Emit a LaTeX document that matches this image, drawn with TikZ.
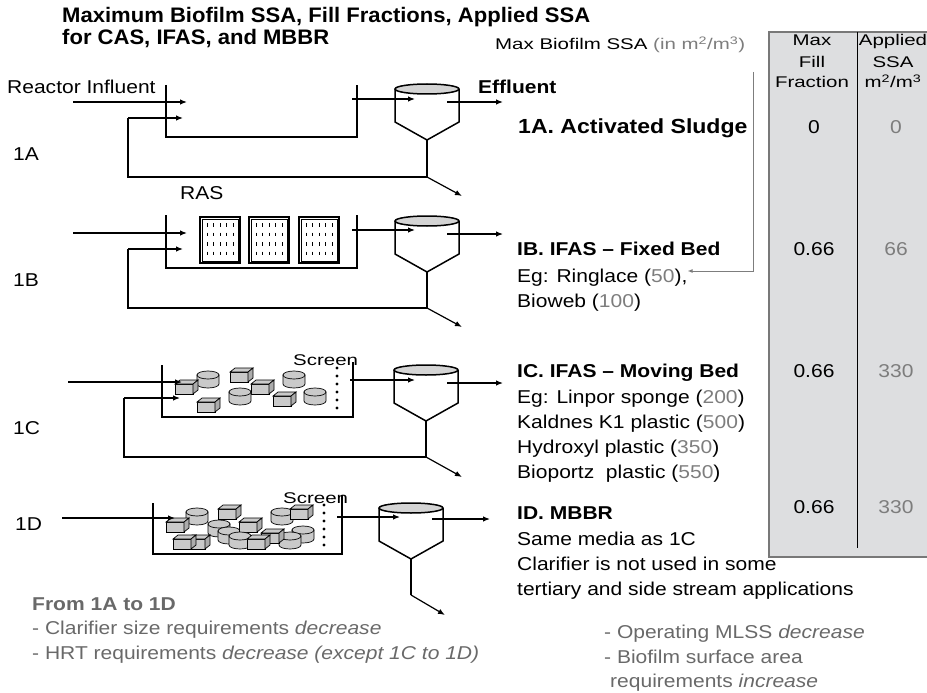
\documentclass[tikz,border=0pt]{standalone}
\usepackage{fontspec}
\setmainfont[FakeStretch=1.13]{Liberation Sans}
\newfontfamily\titlefont[FakeStretch=1.05]{Liberation Sans}
\newfontfamily\widefont[FakeStretch=1.32]{Liberation Sans}
\usetikzlibrary{arrows.meta}

\definecolor{valgray}{RGB}{125,125,125}
\definecolor{notegray}{RGB}{105,105,105}
\definecolor{tablefill}{RGB}{221,222,224}
\definecolor{tableline}{RGB}{120,120,120}
\definecolor{mediafill}{RGB}{202,202,202}
\definecolor{lidfill}{RGB}{212,212,212}

\newcommand{\mediacyl}[2]{%
  \filldraw[media] (#1-11,#2) -- (#1-11,#2+9) arc[start angle=180,end angle=0,x radius=11,y radius=4] -- (#1+11,#2) -- cycle;
  \filldraw[media] (#1,#2) ellipse[x radius=11,y radius=4];
}
\newcommand{\mediabox}[2]{%
  \filldraw[media] (#1,#2) rectangle (#1+18,#2-10);
  \filldraw[media] (#1,#2-10) -- (#1+5,#2-14) -- (#1+23,#2-14) -- (#1+18,#2-10) -- cycle;
  \filldraw[media,fill=mediafill!85!black] (#1+18,#2) -- (#1+23,#2-4) -- (#1+23,#2-14) -- (#1+18,#2-10) -- cycle;
}
\newcommand{\clarifier}[3]{%
  \draw[tank] (#2-32,#3) -- (#2-32,#3+33) -- (#2,#3+51) -- (#2+32,#3+33) -- (#2+32,#3);
  \filldraw[tank,fill=lidfill] (#2,#3) ellipse[x radius=32,y radius=5];
  \coordinate (#1) at (#2,#3+51);
}
\newcommand{\fixedpanel}[2]{%
  \draw[line width=1.2pt] (#1,#2) rectangle (#1+40,#2+46);
  \draw[line width=0.6pt] (#1+2,#2+2) rectangle (#1+38,#2+44);
  \foreach \pr in {0,...,3}{\foreach \pc in {0,...,4}{%
    \draw[line width=1pt] (#1+7+6.5*\pc,#2+6+9.5*\pr) -- ++(0,3.5);}}
}

\begin{document}
\begin{tikzpicture}[x=1pt,y=-1pt,
  tank/.style={line width=1.5pt},
  pipe/.style={line width=1.6pt},
  flow/.style={line width=1.2pt,-{Latex[length=7pt,width=5.5pt]}},
  pointer/.style={draw=valgray,line width=1pt,-{Latex[length=5pt,width=4pt]}},
  media/.style={draw=black,line width=0.7pt,fill=mediafill},
  txt/.style={anchor=base west,inner sep=0pt,font=\fontsize{18.6}{25}\selectfont},
  bold/.style={txt,font=\fontsize{18.6}{25}\selectfont\bfseries},
  note/.style={txt,text=notegray},
  titletxt/.style={anchor=base west,inner sep=0pt,font=\titlefont\fontsize{21}{23}\selectfont\bfseries},
  widetxt/.style={anchor=base west,inner sep=0pt,font=\widefont\fontsize{15.5}{21}\selectfont},
  head/.style={anchor=base,inner sep=0pt,font=\widefont\fontsize{15.5}{21}\selectfont},
  cell/.style={anchor=base,inner sep=0pt,font=\fontsize{18.6}{25}\selectfont}]
\useasboundingbox (0,0) rectangle (927,693);

\fill[tablefill] (769,32) rectangle (927,557);
\draw[tableline,line width=1.2pt] (927,32) -- (769,32) -- (769,557) -- (927,557);
\draw[line width=0.9pt] (857,32) -- (857,548);
\node[head] (hmax) at (812,46) {Max};
\node[head] (hfill) at (812,67) {Fill};
\node[head] (hfrac) at (812,88) {Fraction};
\node[head] (happ) at (893,46) {Applied};
\node[head] (hssa) at (893,67) {SSA};
\node[head] (hunit) at (893,88) {m\textsuperscript{2}/m\textsuperscript{3}};
\node[cell] (fillA) at (814,133) {0};
\node[cell,text=valgray] (ssaA) at (896,133) {0};
\node[cell] (fillB) at (814,255) {0.66};
\node[cell,text=valgray] (ssaB) at (896,255) {66};
\node[cell] (fillC) at (814,377) {0.66};
\node[cell,text=valgray] (ssaC) at (896,377) {330};
\node[cell] (fillD) at (814,513) {0.66};
\node[cell,text=valgray] (ssaD) at (896,513) {330};

\node[titletxt] (title1) at (62,23) {Maximum Biofilm SSA, Fill Fractions, Applied SSA};
\node[titletxt] (title2) at (62,45) {for CAS, IFAS, and MBBR};
\node[widetxt] (ssalabel) at (495,50) {Max Biofilm SSA \textcolor{valgray}{(in m\textsuperscript{2}/m\textsuperscript{3})}};

\node[txt] (influent) at (7,94) {Reactor Influent};
\node[bold] (effluent) at (478,94) {Effluent};
\node[txt] (labA) at (13,160) {1A};
\node[txt] (labB) at (13,286) {1B};
\node[txt] (labC) at (13,434) {1C};
\node[txt] (labD) at (15,530) {1D};
\node[txt] (ras) at (180,199) {RAS};

\node[bold,font=\fontsize{20.4}{25}\selectfont\bfseries] (casA) at (518,133) {1A. Activated Sludge};
\node[bold] (ifasB) at (517,255) {IB. IFAS -- Fixed Bed};
\node[txt] (ringlace) at (517,282) {Eg: Ringlace (\textcolor{valgray}{50}),};
\node[txt] (bioweb) at (517,307) {Bioweb (\textcolor{valgray}{100})};
\node[bold] (ifasC) at (517,377) {IC. IFAS -- Moving Bed};
\node[txt] (linpor) at (517,403) {Eg: Linpor sponge (\textcolor{valgray}{200})};
\node[txt] (kaldnes) at (517,428) {Kaldnes K1 plastic (\textcolor{valgray}{500})};
\node[txt] (hydroxyl) at (517,453) {Hydroxyl plastic (\textcolor{valgray}{350})};
\node[txt] (bioportz) at (517,478) {Bioportz\ \ plastic (\textcolor{valgray}{550})};
\node[bold] (mbbrD) at (517,519) {ID. MBBR};
\node[txt] (samemedia) at (517,545) {Same media as 1C};
\node[txt] (noclar1) at (517,570) {Clarifier is not used in some};
\node[txt] (noclar2) at (517,595) {tertiary and side stream applications};

\node[note,font=\fontsize{18.6}{25}\selectfont\bfseries] (fromto) at (32,610) {From 1A to 1D};
\node[note] (note1) at (32,634) {- Clarifier size requirements \textit{decrease}};
\node[note] (note2) at (32,659) {- HRT requirements \textit{decrease (except 1C to 1D)}};
\node[note] (note3) at (604,638) {- Operating MLSS \textit{decrease}};
\node[note] (note4) at (604,663) {- Biofilm surface area};
\node[note] (note5) at (610,687) {requirements \textit{increase}};

\coordinate (ssatop) at (753,72);
\coordinate (ssaturn) at (753,271);
\draw[pointer] (ssatop) -- (ssaturn) -- (ssaturn -| ringlace.east);

\draw[tank] (166,85) -- (166,137) -- (357,137) -- (357,85);
\clarifier{tipA}{427}{89}
\coordinate (inA) at (73,102);
\coordinate (inAend) at (187,102);
\coordinate (retA) at (128,118);
\coordinate (retAend) at (183,118);
\coordinate (rasA) at (427,177);
\coordinate (wasA) at (462,196);
\coordinate (outA) at (352,99);
\coordinate (outAend) at (415,99);
\coordinate (effA) at (447,102);
\coordinate (effAend) at (503,102);
\draw[flow] (inA) -- (inAend);
\draw[pipe] (tipA) -- (rasA) -| (retA);
\draw[flow] (retA) -- (retAend);
\draw[flow] (rasA) -- (wasA);
\draw[flow] (outA) -- (outAend);
\draw[flow] (effA) -- (effAend);

\draw[tank] (166,215) -- (166,268) -- (357,268) -- (357,215);
\fixedpanel{200}{217}
\fixedpanel{249}{217}
\fixedpanel{299}{217}
\clarifier{tipB}{427}{221}
\coordinate (inB) at (73,233);
\coordinate (inBend) at (187,233);
\coordinate (retB) at (128,249);
\coordinate (retBend) at (183,249);
\coordinate (rasB) at (427,308);
\coordinate (wasB) at (462,327);
\coordinate (outB) at (352,230);
\coordinate (outBend) at (415,230);
\coordinate (effB) at (447,234);
\coordinate (effBend) at (503,234);
\draw[flow] (inB) -- (inBend);
\draw[pipe] (tipB) -- (rasB) -| (retB);
\draw[flow] (retB) -- (retBend);
\draw[flow] (rasB) -- (wasB);
\draw[flow] (outB) -- (outBend);
\draw[flow] (effB) -- (effBend);

\draw[tank] (162,365) -- (162,417) -- (353,417) -- (353,362);
\mediacyl{208}{375}
\mediacyl{294}{375}
\mediabox{230}{382}
\mediabox{175}{394}
\mediabox{251}{394}
\mediacyl{240}{392}
\mediacyl{315}{392}
\mediabox{273}{406}
\mediabox{197}{412}
\foreach \k in {0,...,5} \fill (337,368+8*\k) circle (1.6);
\node[widetxt] (screenC) at (293,365) {Screen};
\clarifier{tipC}{426}{370}
\coordinate (inC) at (68,382);
\coordinate (inCend) at (182,382);
\coordinate (retC) at (124,398);
\coordinate (retCend) at (180,398);
\coordinate (rasC) at (426,457);
\coordinate (wasC) at (462,477);
\coordinate (outC) at (350,380);
\coordinate (outCend) at (415,380);
\coordinate (effC) at (447,383);
\coordinate (effCend) at (503,383);
\draw[flow] (inC) -- (inCend);
\draw[pipe] (tipC) -- (rasC) -| (retC);
\draw[flow] (retC) -- (retCend);
\draw[flow] (rasC) -- (wasC);
\draw[flow] (outC) -- (outCend);
\draw[flow] (effC) -- (effCend);

\draw[tank] (153,503) -- (153,554) -- (342,554) -- (342,495);
\mediacyl{197}{512}
\mediacyl{282}{512}
\mediabox{218}{519}
\mediabox{290}{519}
\mediabox{166}{532}
\mediacyl{219}{524}
\mediacyl{229}{531}
\mediacyl{303}{530}
\mediabox{239}{532}
\mediacyl{240}{536}
\mediacyl{290}{536}
\mediabox{261}{543}
\mediabox{187}{549}
\mediabox{173}{549}
\mediabox{247}{549}
\foreach \k in {0,...,5} \fill (324,505+8*\k) circle (1.6);
\node[widetxt] (screenD) at (283,503) {Screen};
\clarifier{tipD}{411}{508}
\coordinate (inD) at (62,518);
\coordinate (inDend) at (175,518);
\coordinate (sludgeD) at (411,595);
\coordinate (wasD) at (445,615);
\coordinate (outD) at (337,517);
\coordinate (outDend) at (400,517);
\coordinate (effD) at (432,519);
\coordinate (effDend) at (490,519);
\draw[flow] (inD) -- (inDend);
\draw[pipe] (tipD) -- (sludgeD);
\draw[flow] (sludgeD) -- (wasD);
\draw[flow] (outD) -- (outDend);
\draw[flow] (effD) -- (effDend);
\end{tikzpicture}
\end{document}
